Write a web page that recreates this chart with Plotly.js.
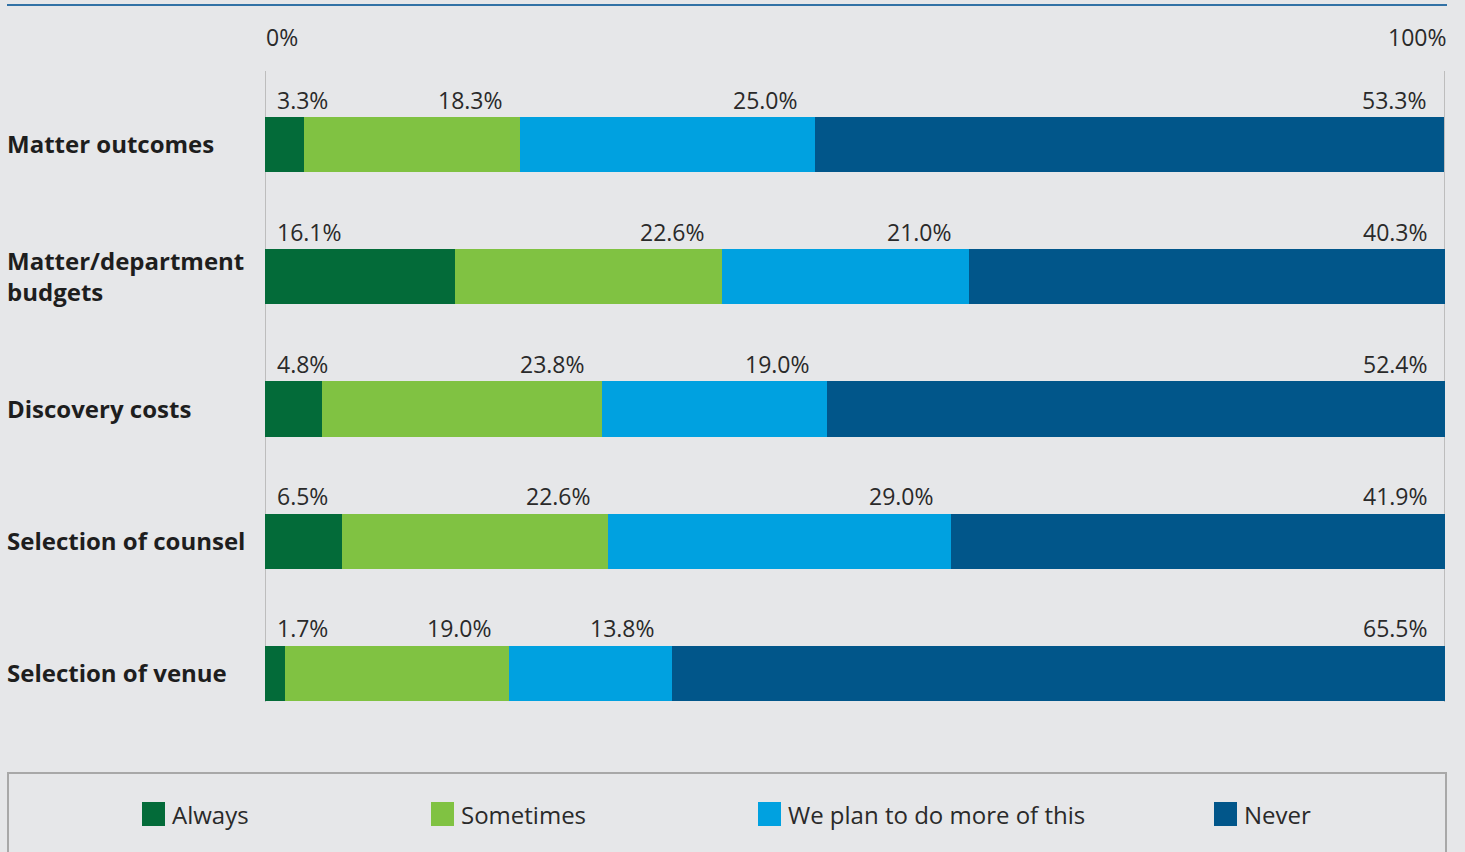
<!DOCTYPE html>
<html>
<head>
<meta charset="utf-8">
<script src="https://cdn.plot.ly/plotly-3.0.1.min.js"></script>
<style>
html,body{margin:0;padding:0;background:#e6e7e9;}
#chart{width:1465px;height:852px;}
</style>
</head>
<body>
<div id="chart"></div>
<script>
const categories = ["Matter outcomes", "Matter/department budgets", "Discovery costs", "Selection of counsel", "Selection of venue"];
const categoryLabels = ["Matter outcomes", "Matter/department<br>budgets", "Discovery costs", "Selection of counsel", "Selection of venue"];
const seriesNames = ["Always", "Sometimes", "We plan to do more of this", "Never"];
const always = [3.3, 16.1, 4.8, 6.5, 1.7];
const sometimes = [18.3, 22.6, 23.8, 22.6, 19.0];
const planMore = [25.0, 21.0, 19.0, 29.0, 13.8];
const never = [53.3, 40.3, 52.4, 41.9, 65.5];
const colors = ["#036b39", "#80c242", "#00a1e0", "#01568a"];
const axisTickLabels = ["0%", "100%"];

const series = [always, sometimes, planMore, never];
const traces = series.map((vals, i) => ({
  type: 'bar',
  orientation: 'h',
  name: seriesNames[i],
  y: categories,
  x: vals,
  width: 0.417,
  marker: {color: colors[i], line: {width: 0}},
  hoverinfo: 'x+name',
  showlegend: false
}));

const annotations = [];
const font = {family: "Open Sans, sans-serif", size: 23, color: "#2a2a2a"};
const legFont = {family: "Open Sans, sans-serif", size: 24, color: "#2a2a2a"};
// value labels
categories.forEach((cat, r) => {
  let cum = 0;
  series.forEach((vals, i) => {
    cum += vals[r];
    const txt = vals[r].toFixed(1) + '%';
    if (i === 0) {
      annotations.push({x: 0, y: cat, xref: 'x', yref: 'y', text: txt, showarrow: false,
        xanchor: 'left', yanchor: 'middle', xshift: 10, yshift: 45, font: font});
    } else {
      annotations.push({x: Math.min(cum, 100), y: cat, xref: 'x', yref: 'y', text: txt, showarrow: false,
        xanchor: 'right', yanchor: 'middle', xshift: -15, yshift: 45, font: font});
    }
  });
});
// category labels
const pxToPaperX = px => (px - 265) / 1180;
const pyToPaperY = py => (702 - py) / 631;
categories.forEach((cat, r) => {
  annotations.push({x: pxToPaperX(5), y: cat, xref: 'paper', yref: 'y', text: '<b>' + categoryLabels[r] + '</b>',
    showarrow: false, xanchor: 'left', yanchor: 'middle', align: 'left', yshift: 1,
    font: {family: "Open Sans, sans-serif", size: 24, color: "#1e1e1e"}});
});
// axis end labels
annotations.push({x: 0, y: pyToPaperY(37), xref: 'x', yref: 'paper', text: axisTickLabels[0], showarrow: false,
  xanchor: 'left', yanchor: 'middle', xshift: -1, font: font});
annotations.push({x: 100, y: pyToPaperY(37), xref: 'x', yref: 'paper', text: axisTickLabels[1], showarrow: false,
  xanchor: 'right', yanchor: 'middle', xshift: 3, font: font});

// legend (custom)
const legX = [142, 431, 758, 1214];
const shapes = [
  {type: 'line', xref: 'paper', yref: 'paper', x0: pxToPaperX(7), x1: pxToPaperX(1447), y0: pyToPaperY(5), y1: pyToPaperY(5),
    line: {color: '#3272a6', width: 2}},
  {type: 'line', xref: 'x', yref: 'paper', x0: 0, x1: 0, y0: 0, y1: 1, line: {color: '#bdbdbd', width: 2}, layer: 'below'},
  {type: 'line', xref: 'x', yref: 'paper', x0: 100, x1: 100, y0: 0, y1: 1, line: {color: '#bdbdbd', width: 2}, layer: 'below'},
  {type: 'rect', xref: 'paper', yref: 'paper', x0: pxToPaperX(8), x1: pxToPaperX(1446), y0: pyToPaperY(773), y1: pyToPaperY(870),
    line: {color: '#a8a8a8', width: 2}, fillcolor: 'rgba(0,0,0,0)'}
];
seriesNames.forEach((name, i) => {
  shapes.push({type: 'rect', xref: 'paper', yref: 'paper', x0: pxToPaperX(legX[i]), x1: pxToPaperX(legX[i] + 23),
    y0: pyToPaperY(802), y1: pyToPaperY(826), fillcolor: colors[i], line: {width: 0}});
  annotations.push({x: pxToPaperX(legX[i] + 28), y: pyToPaperY(814), xref: 'paper', yref: 'paper', text: name,
    showarrow: false, xanchor: 'left', yanchor: 'middle', font: legFont});
});

const layout = {
  width: 1465, height: 852,
  paper_bgcolor: '#e6e7e9', plot_bgcolor: '#e6e7e9',
  margin: {l: 265, r: 20, t: 71, b: 150},
  barmode: 'stack',
  bargap: 0,
  xaxis: {range: [0, 100], showgrid: false, zeroline: false, showticklabels: false, showline: false, fixedrange: true},
  yaxis: {type: 'category', categoryorder: 'array', categoryarray: categories, range: [4.216, -0.557],
    showgrid: false, zeroline: false, showticklabels: false, showline: false, fixedrange: true},
  annotations: annotations,
  shapes: shapes,
  showlegend: false,
  font: font
};

Plotly.newPlot('chart', traces, layout, {displayModeBar: false, staticPlot: true});
</script>
</body>
</html>
